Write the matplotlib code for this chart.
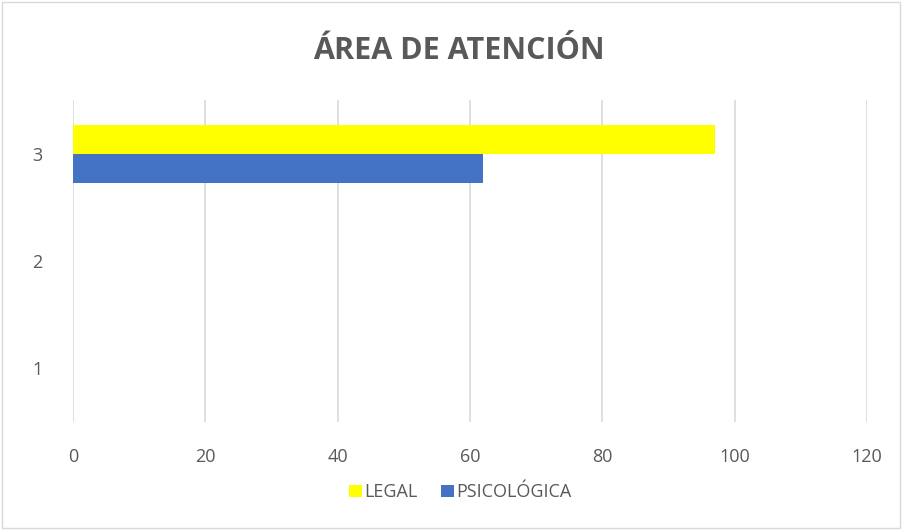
import numpy as np
import matplotlib.pyplot as plt
from matplotlib.patches import Rectangle

# datos
categorias = [1, 2, 3]
legal = [0, 0, 97]
psicologica = [0, 0, 62]
series = ["LEGAL", "PSICOLÓGICA"]
colores = ["#FFFF00", "#4472C4"]
xticks = [0, 20, 40, 60, 80, 100, 120]

plt.rcParams['font.family'] = ['Open Sans', 'DejaVu Sans']

fig = plt.figure(figsize=(9.03, 5.30), dpi=100)
ax = fig.add_axes([0.0808, 0.2038, 0.8793, 0.6075])

y = np.array(categorias)
h = 0.27
ax.barh(y + h / 2, legal, height=h, color=colores[0], label=series[0], zorder=3)
ax.barh(y - h / 2, psicologica, height=h, color=colores[1], label=series[1], zorder=3)

ax.set_xlim(0, 120)
ax.set_ylim(0.5, 3.5)
ax.set_xticks(xticks)
ax.set_yticks(categorias)
ax.tick_params(length=0, labelsize=13, colors="#595959")
ax.tick_params(axis="x", pad=19)
ax.tick_params(axis="y", pad=22)
ax.grid(axis="x", color="#D9D9D9", linewidth=1.2, zorder=0)
for s in ax.spines.values():
    s.set_visible(False)

fig.text(0.508, 0.903, "ÁREA DE ATENCIÓN", ha="center", va="center",
         fontsize=22, fontweight="bold", color="#595959")

leg = fig.legend(loc="center", bbox_to_anchor=(0.51, 0.071), ncol=2, frameon=False,
                 fontsize=13, handlelength=0.7, handleheight=0.7,
                 handletextpad=0.15, columnspacing=1.3, labelcolor="#595959")

# borde del grafico
fig.patches.append(Rectangle((0.002, 0.003), 0.995, 0.994, transform=fig.transFigure,
                             fill=False, edgecolor="#D9D9D9", linewidth=1))

fig.savefig("out.png", dpi=100)
